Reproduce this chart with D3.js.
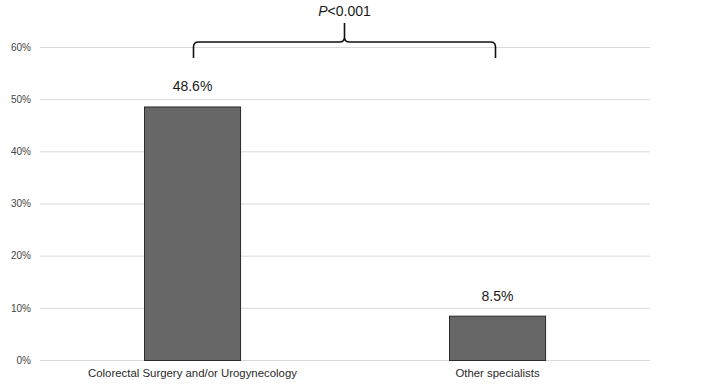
<!DOCTYPE html>
<html>
<head>
<meta charset="utf-8">
<script src="https://cdn.jsdelivr.net/npm/d3@7"></script>
<style>
  body { margin: 0; background: #fff; }
  text { font-family: "Liberation Sans", Arial, sans-serif; }
</style>
</head>
<body>
<div class="chart"></div>
<script>
const categories = ['Colorectal Surgery and/or Urogynecology', 'Other specialists'];
const values = [48.6, 8.5];
const valueLabels = ['48.6%', '8.5%'];
const yTicks = [0, 10, 20, 30, 40, 50, 60];
const pLabel = '<0.001';

const width = 718;
const height = 387;
const margin = {left: 40, right: 68, top: 47, bottom: 27};

const svg = d3.select('.chart')
  .append('svg')
  .attr('width', width)
  .attr('height', height);

const x = d3.scaleBand()
  .domain(categories)
  .range([margin.left, width - margin.right])
  .paddingInner(0.685)
  .paddingOuter(0.3425);

const y = d3.scaleLinear()
  .domain([0, 60])
  .range([height - margin.bottom, margin.top]);

// gridlines
svg.selectAll('.grid')
  .data(yTicks)
  .enter()
  .append('line')
  .attr('x1', margin.left)
  .attr('x2', width - margin.right)
  .attr('y1', d => y(d) + 0.5)
  .attr('y2', d => y(d) + 0.5)
  .attr('stroke', '#d9d9d9')
  .attr('stroke-width', 1);

// y axis labels
const yAxis = d3.axisLeft(y)
  .tickValues(yTicks)
  .tickSize(0)
  .tickPadding(9)
  .tickFormat(d => d + '%');

svg.append('g')
  .attr('transform', `translate(${margin.left},0)`)
  .call(yAxis)
  .call(g => g.select('.domain').remove())
  .call(g => g.selectAll('text')
    .attr('font-size', 10)
    .attr('fill', '#444')
    .style('font-family', '"Liberation Sans", Arial, sans-serif'));

// bars
svg.selectAll('.bar')
  .data(values)
  .enter()
  .append('rect')
  .attr('x', (d, i) => Math.floor(x(categories[i])) + 0.5)
  .attr('y', d => y(d) + 0.5)
  .attr('width', x.bandwidth())
  .attr('height', d => y(0) - y(d))
  .attr('fill', '#676767')
  .attr('stroke', '#2a2a2a')
  .attr('stroke-width', 1);

// value labels
svg.selectAll('.val')
  .data(values)
  .enter()
  .append('text')
  .attr('x', (d, i) => x(categories[i]) + x.bandwidth() / 2)
  .attr('y', d => y(d) - 15)
  .attr('text-anchor', 'middle')
  .attr('font-size', 14)
  .attr('fill', '#1a1a1a')
  .text((d, i) => valueLabels[i]);

// x axis labels
const xAxis = d3.axisBottom(x).tickSize(0).tickPadding(9);
svg.append('g')
  .attr('transform', `translate(0,${y(0)})`)
  .call(xAxis)
  .call(g => g.select('.domain').remove())
  .call(g => g.selectAll('text')
    .attr('font-size', 11.4)
    .attr('fill', '#2a2a2a')
    .style('font-family', '"Liberation Sans", Arial, sans-serif'));

// significance brace
const bx1 = x(categories[0]) + x.bandwidth() / 2 + 1;
const bx2 = x(categories[1]) + x.bandwidth() / 2 - 2;
const bmid = (bx1 + bx2) / 2;
const by = 42, r = 5, bend = 58, tip = 23;

const path = d3.path();
path.moveTo(bx1, bend);
path.lineTo(bx1, by + r);
path.quadraticCurveTo(bx1, by, bx1 + r, by);
path.lineTo(bmid - r, by);
path.quadraticCurveTo(bmid, by, bmid, by - r);
path.lineTo(bmid, tip);
path.moveTo(bmid, by - r);
path.quadraticCurveTo(bmid, by, bmid + r, by);
path.lineTo(bx2 - r, by);
path.quadraticCurveTo(bx2, by, bx2, by + r);
path.lineTo(bx2, bend);

svg.append('path')
  .attr('d', path.toString())
  .attr('fill', 'none')
  .attr('stroke', '#111')
  .attr('stroke-width', 1.6);

const pText = svg.append('text')
  .attr('x', bmid)
  .attr('y', 16)
  .attr('text-anchor', 'middle')
  .attr('font-size', 14)
  .attr('fill', '#1a1a1a');
pText.append('tspan').attr('font-style', 'italic').text('P');
pText.append('tspan').text(pLabel);
</script>
</body>
</html>
